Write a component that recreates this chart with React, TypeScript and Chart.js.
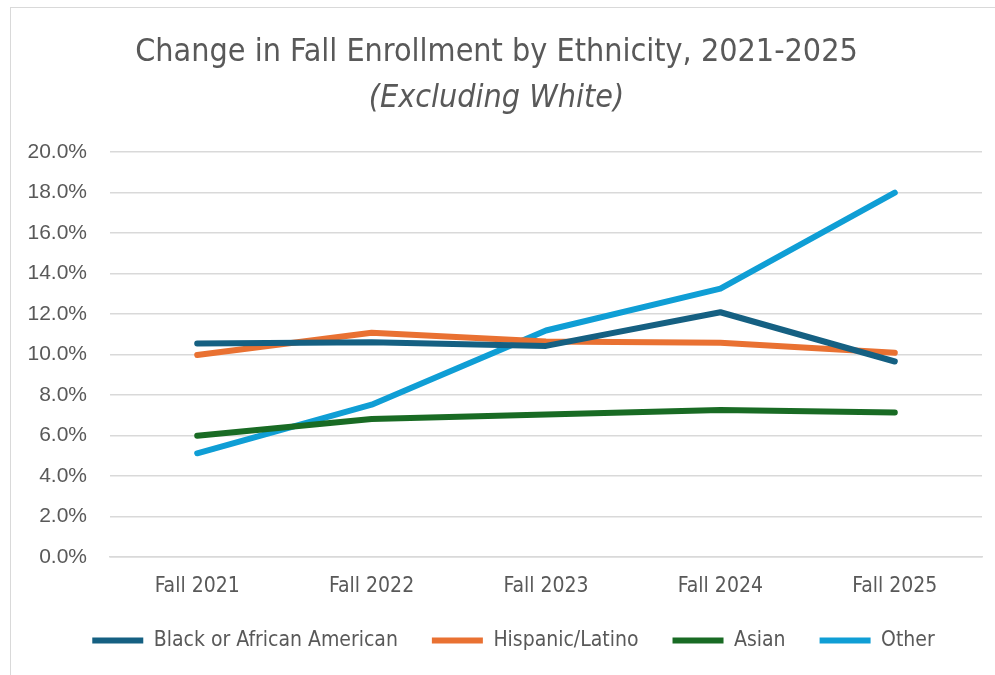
import React, { useEffect, useRef } from "react";
import { Chart, registerables } from "chart.js";

Chart.register(...registerables);

const categories = ["Fall 2021", "Fall 2022", "Fall 2023", "Fall 2024", "Fall 2025"];
const blackSeries = [10.54, 10.6, 10.42, 12.08, 9.65];
const hispanicSeries = [9.97, 11.07, 10.64, 10.57, 10.08];
const asianSeries = [5.99, 6.81, 7.03, 7.26, 7.13];
const otherSeries = [5.12, 7.52, 11.18, 13.25, 17.98];
const yTicks = [0, 2, 4, 6, 8, 10, 12, 14, 16, 18, 20];

const NARROW = '"Liberation Sans Narrow", "DejaVu Sans Condensed", "Arial Narrow", sans-serif';
const SANS = '"Liberation Sans", Arial, sans-serif';
const GREY = "#595959";
const LEGEND_PAD = 34;

export default function App() {
  const ref = useRef<HTMLCanvasElement | null>(null);

  useEffect(() => {
    if (!ref.current) return;
    const mk = (label: string, data: number[], color: string) => ({
      label,
      data,
      borderColor: color,
      backgroundColor: color,
      borderWidth: 6,
      borderCapStyle: "round" as const,
      borderJoinStyle: "round" as const,
      pointRadius: 0,
      pointHoverRadius: 0,
      tension: 0,
      fill: false,
    });
    const legendShift = {
      id: "legendShift",
      afterLayout(chart: any) {
        if (chart.legend) {
          chart.legend.left += LEGEND_PAD / 2;
          chart.legend.right += LEGEND_PAD / 2;
        }
      },
    };
    const chart = new Chart(ref.current, {
      type: "line",
      data: {
        labels: categories,
        datasets: [
          mk("Black or African American", blackSeries, "#156082"),
          mk("Hispanic/Latino", hispanicSeries, "#E97132"),
          mk("Asian", asianSeries, "#196B24"),
          mk("Other", otherSeries, "#0F9ED5"),
        ],
      },
      plugins: [legendShift],
      options: {
        responsive: false,
        animation: false,
        layout: { padding: { left: 0, right: 13, top: 0, bottom: 14 } },
        plugins: {
          tooltip: { enabled: false },
          title: {
            display: true,
            text: "Change in Fall Enrollment by Ethnicity, 2021-2025",
            color: GREY,
            font: { family: NARROW, size: 32, weight: "normal", lineHeight: 1.2 },
            padding: { top: 25, bottom: 8 },
          },
          subtitle: {
            display: true,
            text: "(Excluding White)",
            color: GREY,
            font: { family: NARROW, size: 32, style: "italic", weight: "normal", lineHeight: 1.2 },
            padding: { top: 0, bottom: 34 },
          },
          legend: {
            position: "bottom",
            labels: {
              usePointStyle: true,
              pointStyle: "line",
              pointStyleWidth: 51,
              color: GREY,
              font: { family: NARROW, size: 21 },
              padding: LEGEND_PAD,
            },
          },
        },
        scales: {
          x: {
            offset: true,
            grid: { display: false, drawTicks: false, offset: true },
            border: { display: true, color: "#d9d9d9", width: 1.5 },
            ticks: { color: GREY, font: { family: NARROW, size: 21 }, padding: 17, maxRotation: 0 },
            afterFit: (s: any) => {
              s.height = 39;
            },
          },
          y: {
            min: 0,
            max: 20,
            afterBuildTicks: (s: any) => {
              s.ticks = yTicks.map((v) => ({ value: v }));
            },
            grid: { color: "#d9d9d9", lineWidth: 1.5, drawTicks: false },
            border: { display: false },
            ticks: {
              color: GREY,
              font: { family: SANS, size: 21 },
              padding: 23,
              callback: (v: any) => Number(v).toFixed(1) + "%",
            },
            afterFit: (s: any) => {
              s.width = 99;
            },
          },
        },
      },
    });
    return () => chart.destroy();
  }, []);

  return (
    <div
      style={{
        position: "fixed",
        left: 10,
        top: 7,
        width: 985,
        height: 668,
        borderLeft: "1px solid #d9d9d9",
        borderTop: "1px solid #d9d9d9",
        background: "#fff",
      }}
    >
      <canvas ref={ref} width={984} height={667} style={{ display: "block" }} />
    </div>
  );
}
